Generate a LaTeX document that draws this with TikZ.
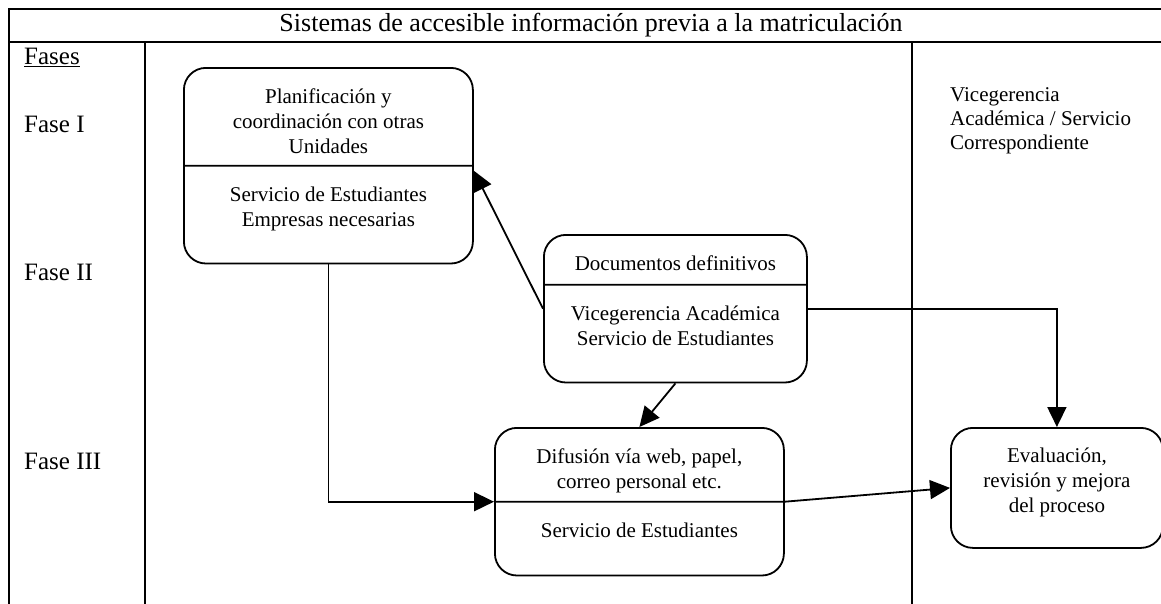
\documentclass[tikz,border=0pt]{standalone}
\usepackage{fontspec}
\setmainfont{Liberation Serif}
\usetikzlibrary{positioning,arrows.meta,shapes.multipart}
\newcommand{\partbox}[3]{\parbox[c][#2pt][t]{#1pt}{\centering\rule{0pt}{35pt}#3}}

\begin{document}
\begin{tikzpicture}[x=1pt, y=-1pt,
  frame/.style={line width=2.4pt},
  phase/.style={anchor=west, inner sep=0pt, font=\fontsize{25}{30}\selectfont},
  stage/.style={rectangle split, rectangle split parts=2, draw, line width=1.8pt,
                rounded corners=22pt, inner sep=0pt, anchor=north west,
                font=\fontsize{21}{25}\selectfont},
  lonestage/.style={rectangle, draw, line width=1.8pt, rounded corners=22pt,
                    inner sep=0pt, anchor=north west,
                    font=\fontsize{21}{25}\selectfont},
  ea/.style={-{Triangle[length=20pt,width=19pt]}, line width=1.8pt},
]
\useasboundingbox (0,0) rectangle (1161,603);
\clip (0,0) rectangle (1161,603);

% table frame
\draw[frame] (8,9) -- (1175,9);
\draw[frame] (8,42) -- (1175,42);
\draw[frame] (9,8) -- (9,610);
\draw[frame] (145,42) -- (145,610);
\draw[frame] (912,42) -- (912,610);

\node[font=\fontsize{26}{30}\selectfont] (title) at (591,25)
  {Sistemas de accesible información previa a la matriculación};

\foreach \n/\y/\txt in {fases/57/\underline{Fases}, f1/124/Fase I,
                        f2/272/Fase II, f3/461/Fase III}
  \node[phase] (\n) at (24,\y) {\txt};

\node[anchor=west, align=left, inner sep=0pt, font=\fontsize{21}{24}\selectfont]
  (resp) at (950,121) {Vicegerencia\\Académica / Servicio\\Correspondiente};

% stages
\node[stage] (plan) at (183,67)
  {\partbox{289}{96}{Planificación y\\coordinación con otras\\Unidades}
   \nodepart{two}\partbox{289}{96}{Servicio de Estudiantes\\Empresas necesarias}};
\node[stage] (docs) at (543,234)
  {\partbox{263}{48}{Documentos definitivos}
   \nodepart{two}\partbox{263}{96}{Vicegerencia Académica\\Servicio de Estudiantes}};
\node[stage] (difu) at (494,427)
  {\partbox{289}{72}{Difusión vía web, papel,\\correo personal etc.}
   \nodepart{two}\partbox{289}{72}{Servicio de Estudiantes}};
\node[lonestage] (eval) at (950,427)
  {\partbox{212}{120}{Evaluación,\\revisión y mejora\\del proceso}};

% flows
\draw[ea] (docs.west) -- ([yshift=-5pt]plan.text split east);
\draw[ea] (docs.south) -- (difu.north);
\draw[ea] (docs.east) -| (eval.north);
\draw[ea] (plan.south) |- (difu.text split west);
\draw[ea] (difu.text split east) -- (eval.west);

\end{tikzpicture}
\end{document}
